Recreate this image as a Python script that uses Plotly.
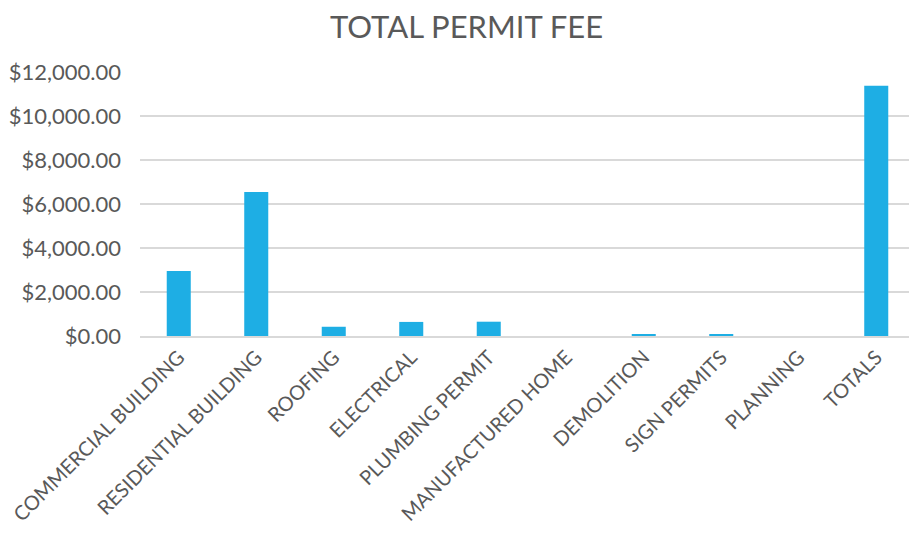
import plotly.graph_objects as go

categories = ["COMMERCIAL BUILDING", "RESIDENTIAL BUILDING", "ROOFING", "ELECTRICAL",
              "PLUMBING PERMIT", "MANUFACTURED HOME", "DEMOLITION", "SIGN PERMITS",
              "PLANNING", "TOTALS"]
fees = [2950, 6550, 420, 640, 650, 0, 70, 50, 0, 11380]
tick_vals = [0, 2000, 4000, 6000, 8000, 10000, 12000]
tick_text = ["$0.00", "$2,000.00", "$4,000.00", "$6,000.00", "$8,000.00", "$10,000.00", "$12,000.00"]

fig = go.Figure(go.Bar(x=categories, y=fees, marker=dict(color="#1eaee4", line=dict(width=0))))

fig.update_layout(
    width=917, height=534,
    margin=dict(l=132, r=10, t=64, b=206, autoexpand=False),
    paper_bgcolor="white", plot_bgcolor="white",
    title=dict(text="TOTAL PERMIT FEE", x=0.5, xanchor="center", y=0.985, yanchor="top",
               font=dict(family="Lato", size=31, color="#595959")),
    font=dict(family="Lato", size=22, color="#595959"),
    bargap=0.69,
    showlegend=False,
)
fig.update_xaxes(tickangle=-45, showline=True, linecolor="#d9d9d9", linewidth=1.5,
                 ticks="", showgrid=False, automargin=False, tickfont=dict(size=20))
fig.update_yaxes(range=[0, 12000], tickvals=tick_vals, ticktext=tick_text,
                 showgrid=True, gridcolor="#d9d9d9", gridwidth=1.5, zeroline=False,
                 ticks="", ticklabelstandoff=18, automargin=False)

fig.write_html("out.html")
